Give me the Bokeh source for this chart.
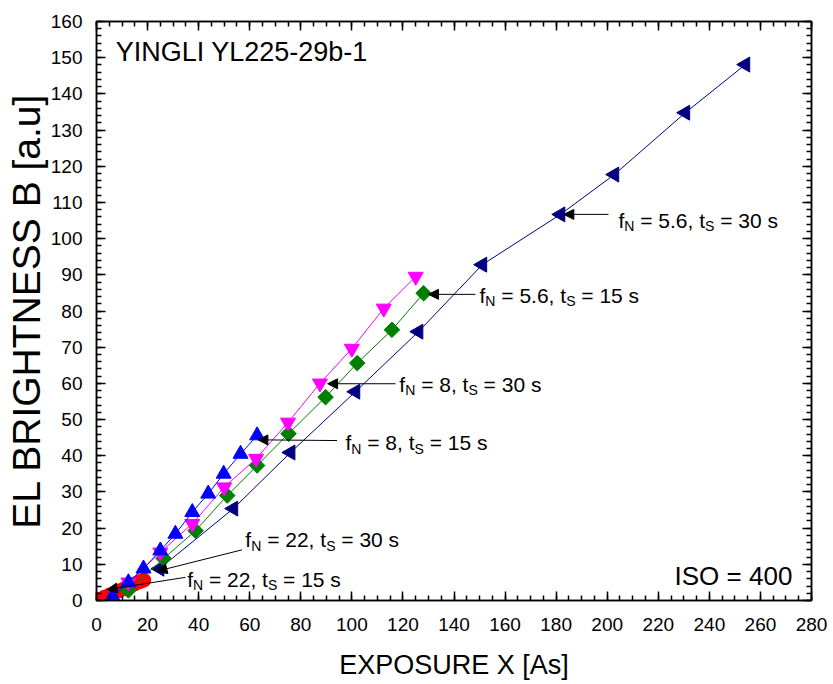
from bokeh.plotting import figure
from bokeh.models import Range1d, LinearAxis, Label, Arrow, NormalHead, FixedTicker, Title
from bokeh.embed import file_html
from bokeh.resources import INLINE

# ---- data ----
navy_x = [24.7, 53.6, 76.0, 101.4, 126.1, 151.1, 181.7, 202.8, 230.6, 254.1]
navy_y = [8.8, 25.4, 40.9, 57.7, 74.3, 92.8, 106.7, 117.7, 134.8, 148.1]

magenta_x = [12.5, 25.0, 37.5, 50.0, 62.5, 75.0, 87.5, 100.0, 112.5, 125.0]
magenta_y = [5.0, 13.3, 21.2, 31.3, 39.2, 49.2, 60.0, 69.6, 80.7, 89.5]

green_x = [12.5, 26.3, 38.8, 51.2, 62.9, 75.2, 89.7, 102.1, 115.7, 128.1]
green_y = [2.8, 11.6, 19.3, 29.0, 37.3, 46.1, 56.2, 65.6, 74.8, 84.9]

blue_x = [6.25, 12.5, 18.4, 25.0, 30.9, 37.5, 43.75, 49.8, 56.4, 62.9]
blue_y = [1.2, 5.0, 8.8, 13.8, 18.4, 24.4, 29.5, 35.0, 40.5, 45.6]

red_x = [1.0, 3.0, 5.0, 7.0, 9.0, 11.0, 13.0, 15.0, 17.0, 18.5]
red_y = [0.3, 0.9, 1.5, 2.1, 2.7, 3.3, 3.9, 4.6, 5.2, 5.6]

x_ticks = list(range(0, 281, 20))
x_minor = list(range(0, 281, 5))
y_ticks = list(range(0, 161, 10))
y_minor = list(range(0, 161, 2))

FONT = "Liberation Sans"
TEXT_SHIFT = 8  # px upward correction for text baseline

p = figure(width=833, height=684, x_range=Range1d(0, 280), y_range=Range1d(0, 160),
           output_backend="svg", toolbar_location=None,
           min_border_left=96, min_border_right=22, min_border_top=21, min_border_bottom=84)
p.grid.visible = False
p.outline_line_color = "black"
p.outline_line_width = 1.5
p.background_fill_color = "white"
p.border_fill_color = "white"


def style_axis(ax):
    ax.major_tick_in = 9
    ax.major_tick_out = 0
    ax.minor_tick_in = 5
    ax.minor_tick_out = 0
    ax.axis_line_width = 1.5
    ax.major_tick_line_width = 1.5
    ax.minor_tick_line_width = 1.5
    ax.major_label_text_font = FONT
    ax.major_label_text_font_size = "19px"
    ax.major_label_text_color = "black"
    ax.axis_label_text_font = FONT
    ax.axis_label_text_font_size = "27px"
    ax.axis_label_text_font_style = "normal"
    ax.axis_label_text_color = "black"


p.xaxis.ticker = FixedTicker(ticks=x_ticks, minor_ticks=x_minor)
p.yaxis.ticker = FixedTicker(ticks=y_ticks, minor_ticks=y_minor)
style_axis(p.xaxis[0])
style_axis(p.yaxis[0])
p.xaxis.axis_label = "EXPOSURE X [As]"
p.xaxis.major_label_standoff = 17
p.yaxis.major_label_standoff = 14
p.xaxis.axis_label_standoff = 16

top = LinearAxis(ticker=FixedTicker(ticks=x_ticks, minor_ticks=x_minor))
right = LinearAxis(ticker=FixedTicker(ticks=y_ticks, minor_ticks=y_minor))
for ax in (top, right):
    style_axis(ax)
    ax.major_label_text_font_size = "1px"
    ax.major_label_text_color = None
    ax.major_label_standoff = 0
p.add_layout(top, "above")
p.add_layout(right, "right")

# y-axis title, placed slightly below the frame centre as in the reference
p.add_layout(Title(text="EL BRIGHTNESS B [a.u]", align="center", offset=-32, standoff=0,
                   text_font=FONT, text_font_size="39px", text_font_style="normal",
                   text_color="black"), "left")

# ---- series ----
p.line(red_x, red_y, line_color="red", line_width=1)
p.scatter(red_x, red_y, marker="circle", size=14, fill_color="red", line_color="red")

p.line(navy_x, navy_y, line_color="#000080", line_width=1)
p.scatter(navy_x, navy_y, marker="triangle", angle=1.5708, size=15,
          fill_color="#000080", line_color="#000080")

p.line(green_x, green_y, line_color="#008000", line_width=1)
p.scatter(green_x, green_y, marker="square", angle=0.7854, size=11,
          fill_color="#008000", line_color="#008000")

p.line(magenta_x, magenta_y, line_color="#FF00FF", line_width=1)
p.scatter(magenta_x, magenta_y, marker="inverted_triangle", size=15,
          fill_color="#FF00FF", line_color="#FF00FF")

p.line(blue_x, blue_y, line_color="#0000FF", line_width=1)
p.scatter(blue_x, blue_y, marker="triangle", size=15,
          fill_color="#0000FF", line_color="#0000FF")

# ---- annotations ----
WID = {'f': 278, 'N': 722, 'S': 667, 't': 278, ' ': 278, '=': 584, '.': 278, ',': 278,
       's': 500, 'I': 278, 'O': 778}
for d in "0123456789":
    WID[d] = 556


def twidth(s, size):
    return sum(WID.get(c, 556) for c in s) / 1000.0 * size


def sub_label(x, y, fn, ts, size=21, sub=14):
    parts = [("f", False), ("N", True), (" = %s, t" % fn, False), ("S", True),
             (" = %s s" % ts, False)]
    off = 0.0
    for txt, is_sub in parts:
        fs = sub if is_sub else size
        lead = len(txt) - len(txt.lstrip(" "))
        off += twidth(" " * lead, fs)
        t = txt.strip(" ")
        p.add_layout(Label(x=x, y=y, x_offset=off,
                           y_offset=(-6 if is_sub else 0) + TEXT_SHIFT, text=t,
                           text_font=FONT, text_font_size="%dpx" % fs,
                           text_color="black", text_baseline="alphabetic"))
        off += twidth(t, fs)


def arrow(x0, y0, x1, y1):
    p.add_layout(Arrow(x_start=x0, y_start=y0, x_end=x1, y_end=y1, line_width=1,
                       line_color="black",
                       end=NormalHead(size=10, fill_color="black", line_color="black")))


sub_label(204.4, 102.8, "5.6", "30")
arrow(200.5, 106.7, 183.0, 106.7)
sub_label(150.0, 82.1, "5.6", "15")
arrow(148.4, 84.6, 130.0, 84.6)
sub_label(118.6, 57.5, "8", "30")
arrow(117.1, 59.9, 90.5, 59.9)
sub_label(97.5, 41.4, "8", "15")
arrow(94.2, 44.2, 63.2, 44.4)
sub_label(58.3, 14.6, "22", "30")
arrow(57.0, 14.0, 23.7, 8.1)
sub_label(35.5, 3.7, "22", "15")
arrow(34.8, 6.4, 4.2, 3.0)

p.add_layout(Label(x=7.5, y=151.5, text="YINGLI YL225-29b-1", text_font=FONT,
                   text_font_size="27px", text_color="black", text_baseline="alphabetic"))
p.add_layout(Label(x=272.5, y=4.5, y_offset=TEXT_SHIFT, text="ISO = 400", text_font=FONT,
                   text_font_size="26px", text_color="black", text_baseline="alphabetic",
                   text_align="right"))

open("out.html", "w").write(file_html(p, INLINE))
